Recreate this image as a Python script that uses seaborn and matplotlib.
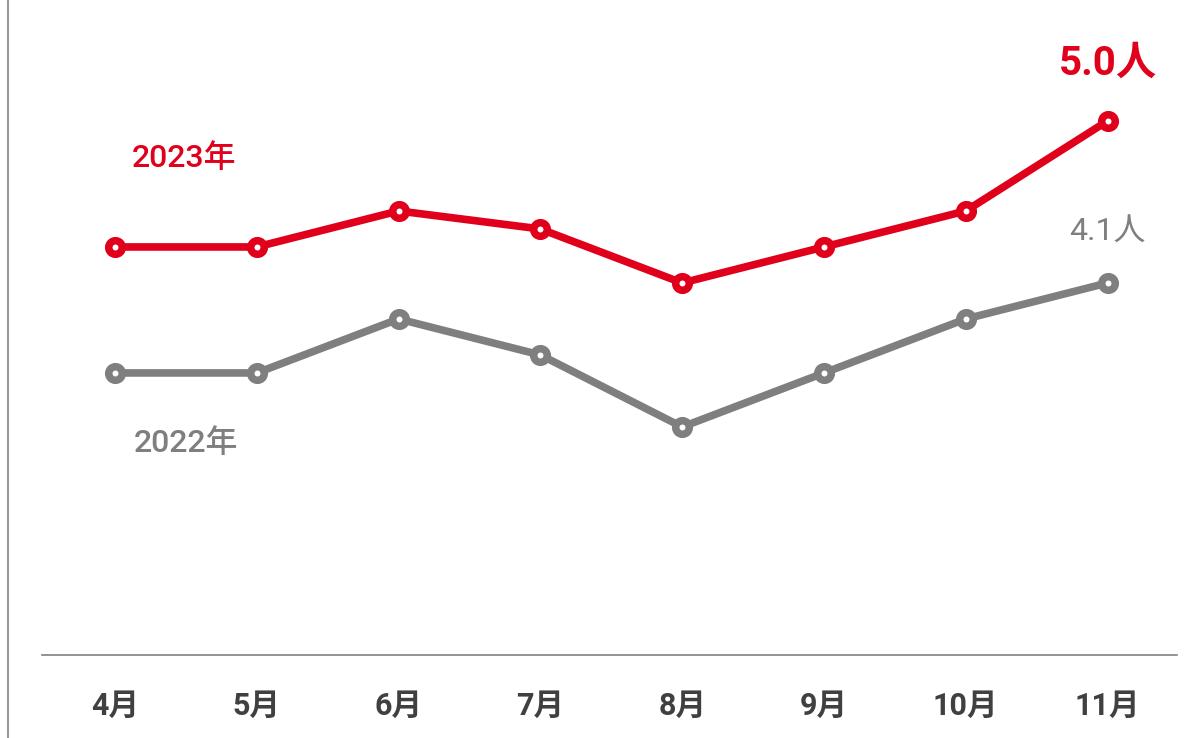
import matplotlib
matplotlib.use("Agg")
import matplotlib.pyplot as plt
from matplotlib.lines import Line2D
import seaborn as sns
import pandas as pd

months = ["4月", "5月", "6月", "7月", "8月", "9月", "10月", "11月"]
values_2023 = [4.3, 4.3, 4.5, 4.4, 4.1, 4.3, 4.5, 5.0]
values_2022 = [3.6, 3.6, 3.9, 3.7, 3.3, 3.6, 3.9, 4.1]
series_names = ["2023年", "2022年"]

RED = "#E0001B"
GRAY = "#7F7F7F"

df = pd.DataFrame({
    "month": months * 2,
    "value": values_2023 + values_2022,
    "year": [series_names[0]] * len(months) + [series_names[1]] * len(months),
})

sns.set_theme(style="white")
FAM = ["Roboto", "Noto Sans CJK JP", "DejaVu Sans"]
plt.rcParams["font.family"] = FAM

fig = plt.figure(figsize=(12.01, 7.38), dpi=100)
ax = fig.add_axes([42 / 1201, (738 - 655) / 738, (1177 - 42) / 1201, 655 / 738])

sns.lineplot(
    data=df, x="month", y="value", hue="year",
    palette={series_names[0]: RED, series_names[1]: GRAY},
    hue_order=[series_names[1], series_names[0]],
    sort=False, linewidth=5.5, marker="o", markersize=9.8,
    markerfacecolor="white", markeredgewidth=5.4, legend=False, ax=ax,
)
for line in ax.get_lines():
    line.set_markeredgecolor(line.get_color())

ax.set_xlim(-0.515, 7.49)
ax.set_ylim(2.033, 5.672)
ax.set_xlabel("")
ax.set_ylabel("")
ax.set_yticks([])
for s in ["top", "right", "left"]:
    ax.spines[s].set_visible(False)
ax.spines["bottom"].set_color("#808080")
ax.spines["bottom"].set_linewidth(1.2)
ax.tick_params(axis="x", length=0, pad=26, labelsize=22, labelcolor="#404040")
for t in ax.get_xticklabels():
    t.set_fontweight("bold")
    t.set_family(FAM)

# series labels
ax.text(0.487, 4.794, series_names[0], color=RED, fontsize=23, ha="center", va="center",
        family=FAM, fontweight="medium")
ax.text(0.5, 3.211, series_names[1], color=GRAY, fontsize=23, ha="center", va="center",
        family=FAM, fontweight="medium")
ax.text(7, values_2023[-1] + 0.32, f"{values_2023[-1]:.1f}人", color=RED, fontsize=29,
        fontweight="bold", ha="center", va="center", family=FAM)
ax.text(7, values_2022[-1] + 0.283, f"{values_2022[-1]:.1f}人", color=GRAY, fontsize=23,
        ha="center", va="center", family=FAM)

# left frame line
fig.add_artist(Line2D([8 / 1201, 8 / 1201], [0, 1], color="#999999", linewidth=1.5,
                      transform=fig.transFigure))

fig.savefig("out.png", dpi=100)
